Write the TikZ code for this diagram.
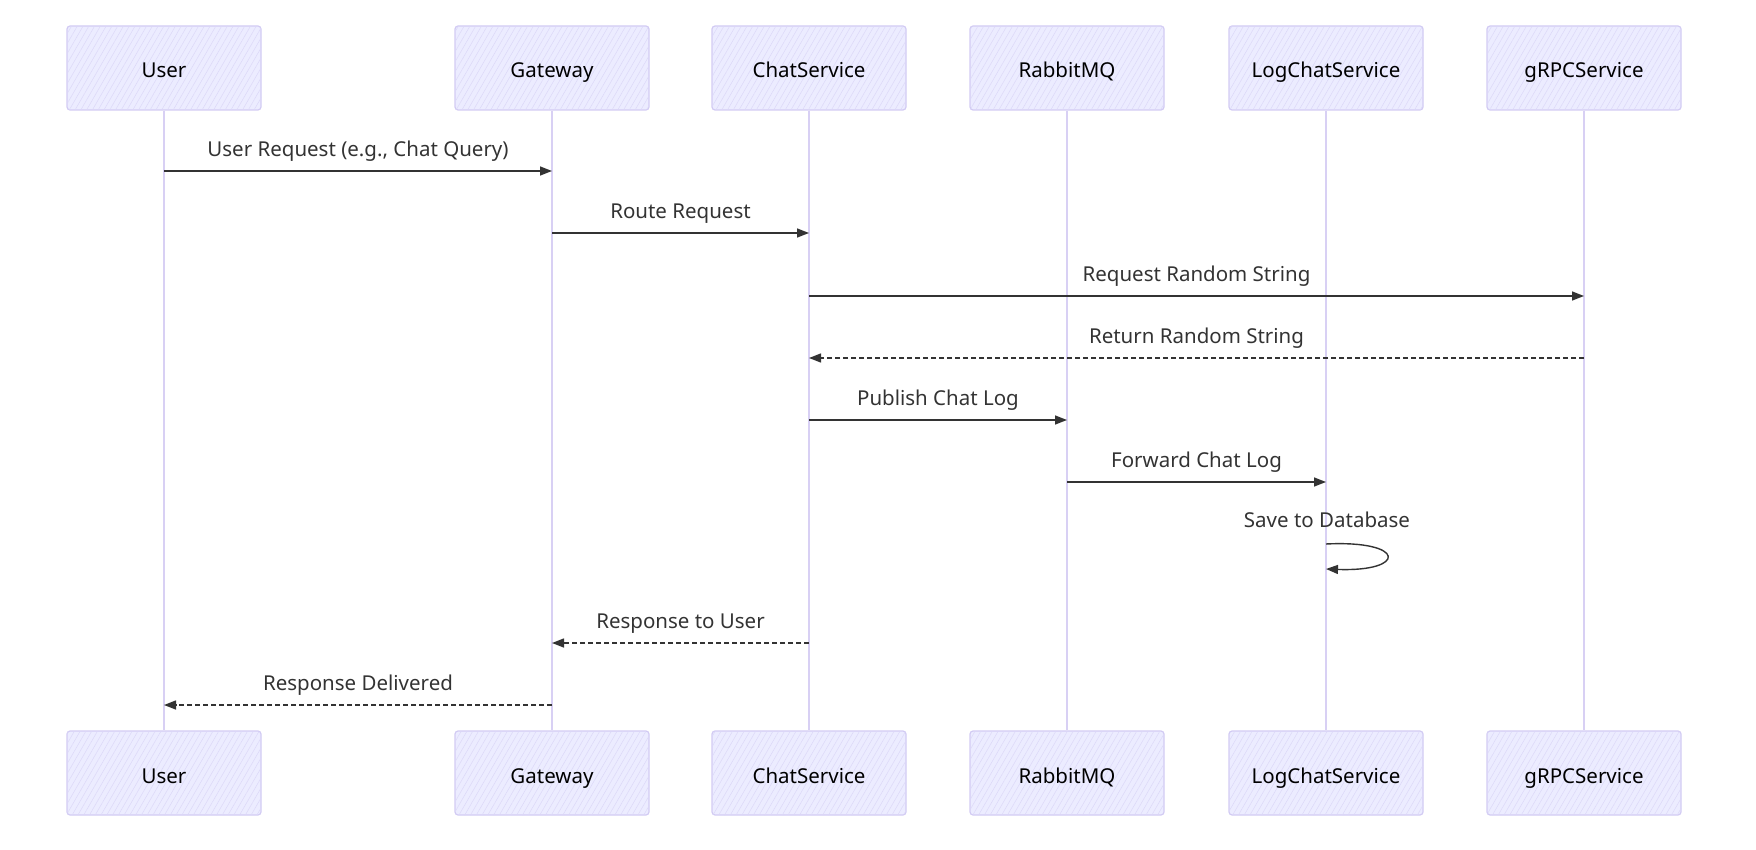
\documentclass[tikz,border=0pt]{standalone}
\usepackage{fontspec}
\setmainfont{Noto Sans}
\usetikzlibrary{arrows.meta,patterns.meta}
\definecolor{actfill}{HTML}{ECECFF}
\definecolor{actline}{HTML}{D2CBF3}
\definecolor{hatch}{HTML}{DCD8F8}
\definecolor{lifecol}{HTML}{D8D0F4}
\definecolor{msgcol}{HTML}{333333}

\begin{document}
\begin{tikzpicture}[x=1pt,y=-1pt,
	actor/.style={draw=actline,line width=1.2pt,fill=actfill,rounded corners=3pt,
		minimum width=194pt,minimum height=84pt,text=black,font=\fontsize{20.5}{24}\selectfont,
		text height=20pt,text depth=0pt,
		postaction={pattern={Lines[angle=60,distance=5pt,line width=0.5pt]},pattern color=hatch}},
	life/.style={draw=lifecol,line width=2.6pt},
	msg/.style={draw=msgcol,line width=1.4pt,-{Triangle[length=12pt,width=9pt]}},
	reply/.style={msg,dash pattern=on 5pt off 3pt},
	lbl/.style={text=msgcol,font=\fontsize{20.5}{24}\selectfont,above=6pt}]
		\useasboundingbox (0,0) rectangle (1756,850);

		\path (164,68) node[actor] (u1) {User}
		(552,68) node[actor] (g1) {Gateway}
		(809,68) node[actor] (c1) {ChatService}
		(1067,68) node[actor] (r1) {RabbitMQ}
		(1326,68) node[actor] (l1) {LogChatService}
		(1584,68) node[actor] (p1) {gRPCService}
		(164,773) node[actor] (u2) {User}
		(552,773) node[actor] (g2) {Gateway}
		(809,773) node[actor] (c2) {ChatService}
		(1067,773) node[actor] (r2) {RabbitMQ}
		(1326,773) node[actor] (l2) {LogChatService}
		(1584,773) node[actor] (p2) {gRPCService};

		\draw[life] (u1) -- (u2)
		(g1) -- (g2)
		(c1) -- (c2)
		(r1) -- (r2)
		(l1) -- (l2)
		(p1) -- (p2);

		\draw[msg] (u1 |- 0,171) -- node[lbl] {User Request (e.g., Chat Query)} (g1 |- 0,171);
		\draw[msg] (g1 |- 0,233) -- node[lbl] {Route Request} (c1 |- 0,233);
		\draw[msg] (c1 |- 0,296) -- node[lbl] {Request Random String} (p1 |- 0,296);
		\draw[reply] (p1 |- 0,358) -- node[lbl] {Return Random String} (c1 |- 0,358);
		\draw[msg] (c1 |- 0,420) -- node[lbl] {Publish Chat Log} (r1 |- 0,420);
		\draw[msg] (r1 |- 0,482) -- node[lbl] {Forward Chat Log} (l1 |- 0,482);
		\path (1327,520) node[text=msgcol,font=\fontsize{20.5}{24}\selectfont] (sv) {Save to Database};
		\draw[msg] (l1 |- 0,544) .. controls (1407,540) and (1407,572) .. (l1 |- 0,569);
		\draw[reply] (c1 |- 0,643) -- node[lbl] {Response to User} (g1 |- 0,643);
		\draw[reply] (g1 |- 0,705) -- node[lbl] {Response Delivered} (u1 |- 0,705);
	\end{tikzpicture}
\end{document}
